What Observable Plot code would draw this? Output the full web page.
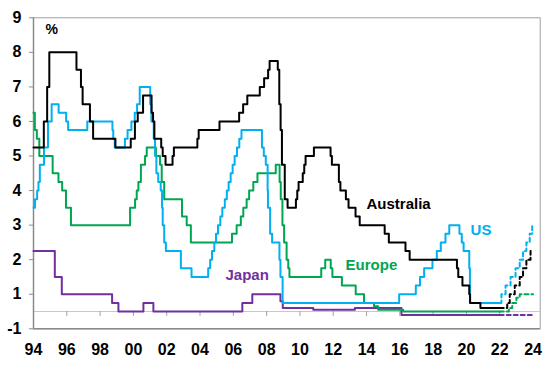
<!DOCTYPE html>
<html>
<head>
<meta charset="utf-8">
<script src="https://cdn.jsdelivr.net/npm/d3@7"></script>
<script src="https://cdn.jsdelivr.net/npm/@observablehq/plot@0.6"></script>
<style>
  html, body { margin: 0; padding: 0; background: #fff; }
  #chart svg { display: block; }
</style>
</head>
<body>
<div id="chart"></div>
<script>
// ---------- data (policy rates, %, decimal years) ----------
const ausYears = [1994.0, 1994.62, 1994.82, 1994.95, 1996.58, 1996.85, 1996.95, 1997.39, 1997.58, 1998.92,
  1999.84, 2000.09, 2000.26, 2000.58, 2001.09, 2001.18, 2001.26, 2001.67, 2001.76, 2001.93,
  2002.35, 2002.43, 2003.84, 2003.92, 2005.17, 2006.35, 2006.59, 2006.84, 2007.59, 2007.85,
  2008.09, 2008.18, 2008.67, 2008.76, 2008.84, 2008.92, 2009.09, 2009.26, 2009.76, 2009.84,
  2009.92, 2010.17, 2010.26, 2010.34, 2010.84, 2011.84, 2011.92, 2012.34, 2012.43, 2012.76,
  2012.92, 2013.34, 2013.59, 2015.09, 2015.34, 2016.34, 2016.59, 2019.43, 2019.51, 2019.76,
  2020.17, 2020.22, 2020.84, 2022.0];
const ausRates = [4.75, 5.5, 6.5, 7.5, 7.0, 6.5, 6.0, 5.5, 5.0, 4.75,
  5.0, 5.5, 5.75, 6.25, 5.75, 5.5, 5.0, 4.75, 4.5, 4.25,
  4.5, 4.75, 5.0, 5.25, 5.5, 5.75, 6.0, 6.25, 6.5, 6.75,
  7.0, 7.25, 7.0, 6.0, 5.25, 4.25, 3.25, 3.0, 3.25, 3.5,
  3.75, 4.0, 4.25, 4.5, 4.75, 4.5, 4.25, 3.75, 3.5, 3.25,
  3.0, 2.75, 2.5, 2.25, 2.0, 1.75, 1.5, 1.25, 1.0, 0.75,
  0.5, 0.25, 0.1, 0.1];

const usYears = [1994.0, 1994.09, 1994.22, 1994.3, 1994.38, 1994.63, 1994.87, 1995.09, 1995.51, 1995.96,
  1996.08, 1997.23, 1998.74, 1998.79, 1998.88, 1999.49, 1999.65, 1999.88, 2000.08, 2000.22,
  2000.38, 2001.01, 2001.08, 2001.22, 2001.3, 2001.38, 2001.49, 2001.64, 2001.72, 2001.76,
  2001.85, 2001.95, 2002.85, 2003.49, 2004.49, 2004.61, 2004.72, 2004.86, 2004.96, 2005.08,
  2005.22, 2005.34, 2005.49, 2005.61, 2005.72, 2005.84, 2005.96, 2006.08, 2006.22, 2006.36,
  2006.49, 2007.72, 2007.83, 2007.95, 2008.06, 2008.08, 2008.21, 2008.33, 2008.77, 2008.83,
  2008.96, 2015.96, 2016.96, 2017.21, 2017.46, 2017.96, 2018.22, 2018.46, 2018.74, 2018.97,
  2019.58, 2019.72, 2019.83, 2020.17, 2020.21, 2022.0];
const usRates = [3.0, 3.25, 3.5, 3.75, 4.25, 4.75, 5.5, 6.0, 5.75, 5.5,
  5.25, 5.5, 5.25, 5.0, 4.75, 5.0, 5.25, 5.5, 5.75, 6.0,
  6.5, 6.0, 5.5, 5.0, 4.5, 4.0, 3.75, 3.5, 3.0, 2.5,
  2.0, 1.75, 1.25, 1.0, 1.25, 1.5, 1.75, 2.0, 2.25, 2.5,
  2.75, 3.0, 3.25, 3.5, 3.75, 4.0, 4.25, 4.5, 4.75, 5.0,
  5.25, 4.75, 4.5, 4.25, 3.5, 3.0, 2.25, 2.0, 1.5, 1.0,
  0.25, 0.5, 0.75, 1.0, 1.25, 1.5, 1.75, 2.0, 2.25, 2.5,
  2.25, 2.0, 1.75, 1.25, 0.25, 0.25];

const euYears = [1994.0, 1994.08, 1994.2, 1994.35, 1995.15, 1995.5, 1995.72, 1995.95, 1996.25, 1999.8,
  2000.1, 2000.2, 2000.3, 2000.45, 2000.7, 2000.8, 2001.35, 2001.6, 2001.7, 2001.85,
  2002.92, 2003.2, 2003.45, 2005.92, 2006.2, 2006.45, 2006.6, 2006.8, 2006.95, 2007.2,
  2007.45, 2008.55, 2008.78, 2008.85, 2008.95, 2009.05, 2009.2, 2009.3, 2009.37, 2011.28,
  2011.52, 2011.85, 2011.95, 2012.52, 2013.35, 2013.85, 2014.45, 2014.7, 2016.2, 2022.0];
const euRates = [5.75, 5.25, 5.0, 4.5, 4.0, 3.75, 3.5, 3.0, 2.5, 3.0,
  3.25, 3.5, 3.75, 4.25, 4.5, 4.75, 4.5, 4.25, 3.75, 3.25,
  2.75, 2.5, 2.0, 2.25, 2.5, 2.75, 3.0, 3.25, 3.5, 3.75,
  4.0, 4.25, 3.75, 3.25, 2.5, 2.0, 1.5, 1.25, 1.0, 1.25,
  1.5, 1.25, 1.0, 0.75, 0.5, 0.25, 0.15, 0.05, 0.0, 0.0];

const jpYears = [1994.0, 1995.28, 1995.7, 1998.72, 1999.1, 2000.6, 2001.2, 2006.54, 2007.14, 2008.83,
  2008.97, 2010.8, 2013.3, 2016.1, 2022.0];
const jpRates = [1.75, 1.0, 0.5, 0.25, 0.0, 0.25, 0.0, 0.25, 0.5, 0.3,
  0.1, 0.05, 0.1, -0.1, -0.1];

// projections (dashed)
const ausProjYears = [2022.0, 2022.45, 2022.6, 2022.9, 2023.2, 2023.4, 2023.6, 2023.85, 2024.0];
const ausProjRates = [0.1, 0.25, 0.5, 0.75, 1.0, 1.25, 1.5, 1.75, 1.75];
const usProjYears = [2022.0, 2022.1, 2022.35, 2022.65, 2022.95, 2023.2, 2023.4, 2023.6, 2023.8, 2023.95, 2024.0];
const usProjRates = [0.25, 0.5, 0.75, 1.0, 1.25, 1.5, 1.75, 2.0, 2.25, 2.5, 2.5];
const euProjYears = [2022.0, 2022.55, 2022.75, 2023.0, 2023.2, 2024.0];
const euProjRates = [0.0, 0.1, 0.25, 0.4, 0.5, 0.5];
const jpProjYears = [2022.0, 2024.0];
const jpProjRates = [-0.1, -0.1];

// axes
const xTickYears = [1994, 1996, 1998, 2000, 2002, 2004, 2006, 2008, 2010, 2012, 2014, 2016, 2018, 2020, 2022, 2024];
const xTickLabels = ["94", "96", "98", "00", "02", "04", "06", "08", "10", "12", "14", "16", "18", "20", "22", "24"];
const yTicks = [-0.5, 0.5, 1.5, 2.5, 3.5, 4.5, 5.5, 6.5, 7.5, 8.5];
const yTickLabels = ["-1", "1", "2", "3", "4", "5", "6", "7", "8", "9"];

// series labels
const labelNames = ["Australia", "US", "Europe", "Japan"];
const labelYears = [2014.0, 2020.25, 2012.74, 2005.53];
const labelRates = [3.1, 2.34, 1.33, 1.04];

// ---------- build ----------
const rows = (xs, ys) => xs.map((x, i) => ({x, y: ys[i]}));
const xLabelMap = new Map(xTickYears.map((d, i) => [d, xTickLabels[i]]));
const yLabelMap = new Map(yTicks.map((d, i) => [d, yTickLabels[i]]));
const labels = labelNames.map((n, i) => ({name: n, x: labelYears[i], y: labelRates[i]}));

const colors = {Australia: "#000000", US: "#00B0F0", Europe: "#00A651", Japan: "#7030A0"};
const font = "'Liberation Sans', Arial, Helvetica, sans-serif";

const solid = (xs, ys, c) => Plot.line(rows(xs, ys), {x: "x", y: "y", curve: "step-after", stroke: c, strokeWidth: 2});
const dashed = (xs, ys, c) => Plot.line(rows(xs, ys), {x: "x", y: "y", curve: "step-after", stroke: c, strokeWidth: 2, strokeDasharray: "4,3"});

const chart = Plot.plot({
  width: 548,
  height: 366,
  marginTop: 17.3,
  marginBottom: 37.7,
  marginLeft: 33,
  marginRight: 8.3,
  style: {fontFamily: font, background: "#fff", color: "#000"},
  x: {domain: [1994, 2024.43], axis: null},
  y: {domain: [-0.5, 8.5], axis: null},
  marks: [
    Plot.frame({stroke: "#a0a0a0"}),
    Plot.ruleY([0], {stroke: "#c8c8c8", strokeWidth: 1}),
    Plot.ruleX(xTickYears.slice(1, -1), {y1: 0, y2: -0.14, stroke: "#a0a0a0"}),
    Plot.ruleX([1994], {stroke: "#8a8a8a", strokeWidth: 1.5}),
    Plot.ruleY([-0.5], {stroke: "#8a8a8a", strokeWidth: 1.5}),
    Plot.axisY(yTicks, {label: null, tickSize: 4, tickPadding: 8, stroke: "#8a8a8a", fill: "#000",
      tickFormat: d => yLabelMap.get(d), fontSize: 16, fontWeight: "bold"}),
    Plot.axisX(xTickYears, {label: null, tickSize: 0, tickPadding: 15, fill: "#000",
      tickFormat: d => xLabelMap.get(d), fontSize: 16, fontWeight: "bold"}),
    Plot.text(["%"], {frameAnchor: "top-left", dx: 12, dy: 6, lineAnchor: "top", fontSize: 14, fontWeight: "bold", fill: "#000"}),
    solid(jpYears, jpRates, colors.Japan),
    dashed(jpProjYears, jpProjRates, colors.Japan),
    solid(euYears, euRates, colors.Europe),
    dashed(euProjYears, euProjRates, colors.Europe),
    solid(usYears, usRates, colors.US),
    dashed(usProjYears, usProjRates, colors.US),
    solid(ausYears, ausRates, colors.Australia),
    dashed(ausProjYears, ausProjRates, colors.Australia),
    Plot.text(labels, {x: "x", y: "y", text: "name", textAnchor: "start", fontSize: 15, fontWeight: "bold",
      fill: d => colors[d.name]})
  ]
});
document.getElementById("chart").appendChild(chart);
</script>
</body>
</html>
